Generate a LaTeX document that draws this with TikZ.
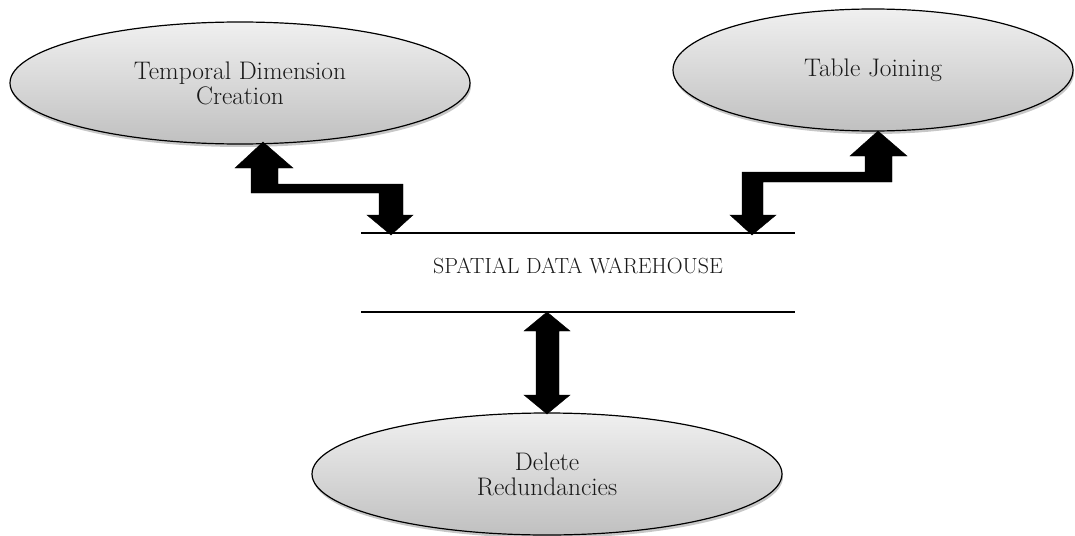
\documentclass[tikz,border=0pt]{standalone}
\usetikzlibrary{shapes.geometric,shadows}
\definecolor{shadetop}{RGB}{240,240,240}
\definecolor{shadebot}{RGB}{192,192,192}
\definecolor{ink}{RGB}{25,25,25}
\tikzset{
  process/.style={ellipse, draw=black, line width=1.2pt, inner sep=0pt,
    top color=shadetop, bottom color=shadebot, align=center, text=ink,
    font=\fontsize{25.4}{25}\selectfont,
    drop shadow={shadow xshift=1pt, shadow yshift=-3pt, opacity=0.22, fill=black}},
  rule/.style={line width=1.3pt, black},
  blockarrow/.style={fill=black, draw=black, line width=0.4pt, line join=miter}
}
\begin{document}
\begin{tikzpicture}[x=1pt, y=-1pt]
\useasboundingbox (0,0) rectangle (1075,535);

% the three processing steps
\node[process, minimum width=460pt, minimum height=122pt] (tdc) at (240,83)
  {Temporal Dimension\\Creation};
\node[process, minimum width=400pt, minimum height=122pt] (tj) at (873,70)
  {Table Joining};
\node[process, minimum width=470pt, minimum height=122pt] (dr) at (547,474)
  {Delete\\Redundancies};

% the warehouse, set between two rules
\node[font=\fontsize{21.9}{22}\selectfont, text=ink] (sdw) at (578,266) {SPATIAL DATA WAREHOUSE};
\coordinate (topL) at (361,233);
\coordinate (topR) at (795,233);
\coordinate (botL) at (361,312);
\coordinate (botR) at (795,312);
\draw[rule] (topL) -- (topR);
\draw[rule] (botL) -- (botR);

% arrow end points
\coordinate (tdcTip) at (263,142);
\coordinate (tjTip) at (878,131);
\coordinate (sdwBot) at (547,312);

% elbow arrow: temporal dimension <-> warehouse
\fill[blockarrow] (tdcTip) -- ++(30,26) -- ++(-15,0) -- ++(0,16) -- ++(125,0)
  -- ++(0,31) -- ++(10,0) -- ++(-22,20) -- ++(-24,-20) -- ++(12,0)
  -- ++(0,-22) -- ++(-128,0) -- ++(0,-25) -- ++(-16,0) -- cycle;

% elbow arrow: table joining <-> warehouse
\fill[blockarrow] (tjTip) -- ++(29,25) -- ++(-15,0) -- ++(0,26) -- ++(-129,0)
  -- ++(0,33) -- ++(13,0) -- ++(-24,20) -- ++(-22,-20) -- ++(12,0)
  -- ++(0,-43) -- ++(123,0) -- ++(0,-16) -- ++(-15,0) -- cycle;

% straight arrow: warehouse <-> delete redundancies
\fill[blockarrow] (sdwBot) -- ++(23,19) -- ++(-11,0) -- ++(0,64) -- ++(11,0)
  -- ++(-23,19) -- ++(-23,-19) -- ++(12,0) -- ++(0,-64) -- ++(-12,0) -- cycle;
\end{tikzpicture}
\end{document}
